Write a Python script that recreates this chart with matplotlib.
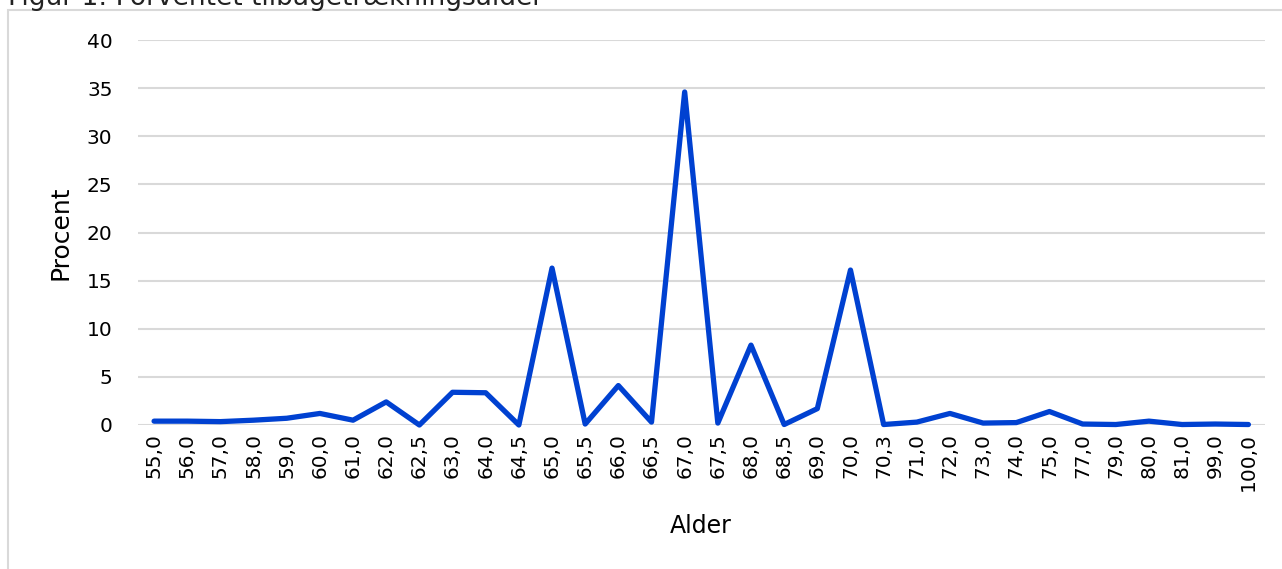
import matplotlib
matplotlib.use("Agg")
import matplotlib.pyplot as plt
from matplotlib.patches import Rectangle

categories = ["55,0", "56,0", "57,0", "58,0", "59,0", "60,0", "61,0", "62,0", "62,5",
              "63,0", "64,0", "64,5", "65,0", "65,5", "66,0", "66,5", "67,0", "67,5",
              "68,0", "68,5", "69,0", "70,0", "70,3", "71,0", "72,0", "73,0", "74,0",
              "75,0", "77,0", "79,0", "80,0", "81,0", "99,0", "100,0"]
procent = [0.4, 0.4, 0.35, 0.5, 0.7, 1.2, 0.5, 2.4, 0.0,
           3.4, 3.35, 0.0, 16.3, 0.1, 4.1, 0.3, 34.6, 0.2,
           8.3, 0.05, 1.7, 16.1, 0.05, 0.3, 1.2, 0.2, 0.25,
           1.4, 0.1, 0.05, 0.4, 0.05, 0.1, 0.05]
yticks = [0, 5, 10, 15, 20, 25, 30, 35, 40]

plt.rcParams['font.family'] = ['DejaVu Sans']

W, H = 1282, 569
fig = plt.figure(figsize=(W / 100, H / 100), dpi=100)

# chart border
fig.patches.append(Rectangle((8 / W, -0.1), 1.2, 1 - 10 / H + 0.1, transform=fig.transFigure,
                             fill=False, edgecolor="#d9d9d9", linewidth=1.5, zorder=0))
fig.text(8 / W, 1 - 5 / H, "Figur 1: Forventet tilbagetrækningsalder", fontsize=19,
         va="baseline", ha="left", color="#222222")

ax = fig.add_axes([137.5 / W, 1 - 425 / H, (1265 - 137.5) / W, (425 - 40) / H])
x = list(range(len(categories)))
ax.plot(x, procent, color="#0041D1", linewidth=3.8, solid_joinstyle="round", solid_capstyle="round",
        clip_on=False, zorder=3)
ax.set_xlim(-0.5, len(categories) - 0.5)
ax.set_ylim(0, 40)
ax.set_yticks(yticks)
ax.set_xticks(x)
ax.set_xticklabels(categories, rotation=90)
ax.grid(axis="y", color="#d9d9d9", linewidth=1.5)
ax.set_axisbelow(True)
for s in ax.spines.values():
    s.set_visible(False)
ax.tick_params(axis="both", length=0, labelsize=14.5, colors="#000000")
ax.tick_params(axis="y", pad=18)
ax.tick_params(axis="x", pad=6)
ax.set_ylabel("Procent", fontsize=18, labelpad=10)
ax.set_xlabel("Alder", fontsize=17, labelpad=16)

fig.savefig("out.png", dpi=100)
